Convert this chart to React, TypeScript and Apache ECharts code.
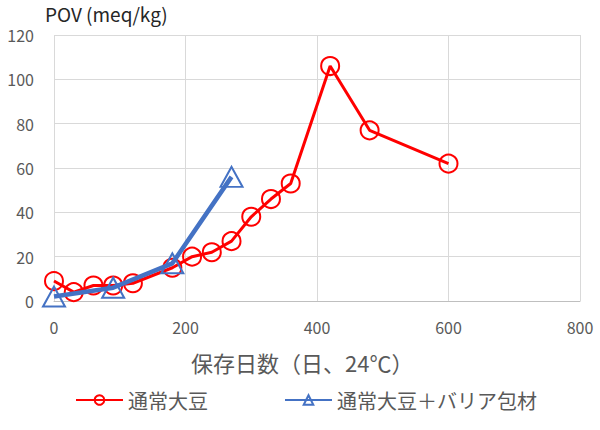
import React, { useEffect, useRef } from "react";
import * as echarts from "echarts";

const redName = "通常大豆";
const blueName = "通常大豆＋バリア包材";
const redDays = [0, 30, 60, 90, 120, 180, 210, 240, 270, 300, 330, 360, 420, 480, 600];
const redPov = [9, 4, 7, 7, 8, 15, 20, 22, 27, 38, 46, 53, 106, 77, 62];
const blueDays = [0, 90, 180, 270];
const bluePov = [2, 6, 17, 56];
const xTicks = [0, 200, 400, 600, 800];
const yTitle = "POV (meq/kg)";
const xTitle = "保存日数（日、24℃）";

const FONT = "'Noto Sans CJK JP', 'Noto Sans', sans-serif";

export default function App() {
  const ref = useRef<HTMLDivElement>(null);
  useEffect(() => {
    document.body.style.margin = "0";
    const chart = echarts.init(ref.current!, undefined, { renderer: "svg" });
    const redData = redDays.map((d, i) => [d, redPov[i]]);
    const blueData = blueDays.map((d, i) => [d, bluePov[i]]);
    chart.setOption({
      animation: false,
      textStyle: { fontFamily: FONT },
      grid: { left: 54, right: 20, top: 35, bottom: 129 },
      xAxis: {
        type: "value",
        min: xTicks[0],
        max: xTicks[xTicks.length - 1],
        interval: 200,
        axisLine: { show: true, lineStyle: { color: "#bfbfbf", width: 1 } },
        axisTick: { show: false },
        axisLabel: { color: "#595959", fontSize: 16, margin: 18, fontFamily: FONT },
        splitLine: { show: true, lineStyle: { color: "#d9d9d9", width: 1 } },
      },
      yAxis: {
        type: "value",
        min: 0,
        max: 120,
        interval: 20,
        axisLine: { show: false },
        axisTick: { show: false },
        axisLabel: { color: "#595959", fontSize: 16, margin: 20, fontFamily: FONT },
        splitLine: { show: true, lineStyle: { color: "#d9d9d9", width: 1 } },
      },
      legend: {
        left: 70,
        top: 385,
        itemGap: 76,
        itemWidth: 47,
        itemHeight: 12,
        textStyle: { color: "#595959", fontSize: 20, fontFamily: FONT },
        data: [redName, blueName],
      },
      graphic: [
        {
          type: "text",
          left: 45,
          top: 4,
          style: { text: yTitle, fontSize: 19, fill: "#262626", fontFamily: FONT },
        },
        {
          type: "text",
          left: 191,
          top: 351,
          style: { text: xTitle, fontSize: 22, fill: "#595959", fontFamily: FONT },
        },
      ],
      series: [
        {
          name: redName,
          type: "line",
          data: redData,
          clip: false,
          symbol: "circle",
          symbolSize: 18,
          lineStyle: { color: "#ff0000", width: 3 },
          itemStyle: { color: "rgba(255,255,255,0)", borderColor: "#ff0000", borderWidth: 2 },
          z: 2,
        },
        {
          name: blueName,
          type: "line",
          data: blueData,
          clip: false,
          symbol: "triangle",
          symbolSize: [22, 20],
          lineStyle: { color: "#4472c4", width: 4.5 },
          itemStyle: { color: "rgba(255,255,255,0)", borderColor: "#4472c4", borderWidth: 2 },
          z: 3,
        },
      ],
    });
    return () => chart.dispose();
  }, []);
  return <div ref={ref} style={{ width: 600, height: 430 }} />;
}
